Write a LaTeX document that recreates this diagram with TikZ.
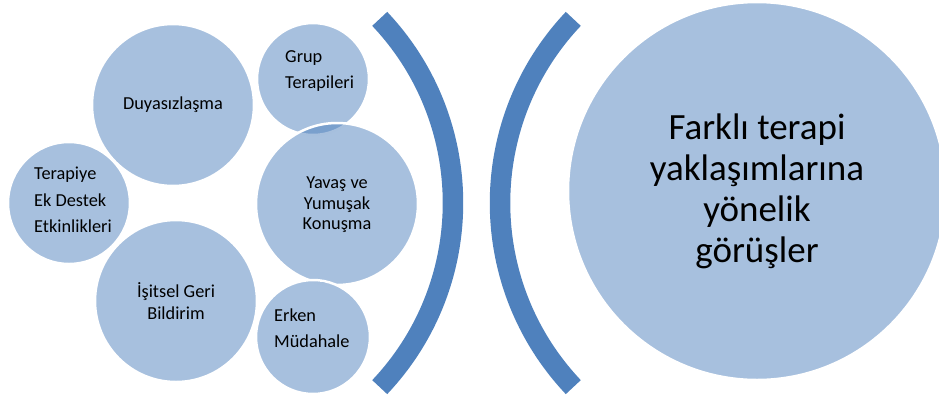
\documentclass[tikz,border=0pt]{standalone}
\usepackage{fontspec}
\setmainfont{Carlito}
\usetikzlibrary{calc}
\definecolor{accent}{HTML}{4F81BD}
\tikzset{
  bubble/.style={circle, inner sep=0pt, fill=accent, fill opacity=0.5,
    draw=white, draw opacity=1, line width=2.5pt},
  label/.style={inner sep=0pt, text opacity=1, font=\fontsize{18.3}{20.5}\selectfont},
  bracket/.style={draw=accent, line width=20.5pt, line cap=butt},
}
\begin{document}
\begin{tikzpicture}[x=1pt, y=-1pt]
\useasboundingbox (0,0) rectangle (939,405);

% small bubbles
\node[bubble, minimum size=122pt] (destek) at (69,203) {};
\node[bubble, minimum size=162pt] (duyas) at (173,105) {};
\node[bubble, minimum size=162pt] (isit) at (176,301) {};
\node[bubble, minimum size=112pt] (grup) at (313,79) {};
\node[bubble, minimum size=162pt] (yavas) at (337,204) {};
\node[bubble, minimum size=114pt] (erken) at (313,337) {};

% central bubble
\node[bubble, minimum size=378pt] (main) at (757,191) {};

% bubble texts
\node[label] (tduyas) at (duyas) {Duyasızlaşma};
\node[label, anchor=west, align=left, font=\fontsize{18.3}{26}\selectfont] (tgrup) at (285,71) {Grup\\Terapileri};
\node[label, anchor=west, align=left, font=\fontsize{18.3}{26.5}\selectfont] (tdestek) at (34,200) {Terapiye\\Ek Destek\\Etkinlikleri};
\node[label, align=center] (tyavas) at (337,205) {Yavaş ve\\Yumuşak\\Konuşma};
\node[label, align=center, font=\fontsize{18.3}{21.5}\selectfont] (tisit) at (176,301) {İşitsel Geri\\Bildirim};
\node[label, anchor=west, align=left, font=\fontsize{18.3}{26}\selectfont] (terken) at (274,328) {Erken\\Müdahale};
\node[label, align=center, font=\fontsize{37}{41}\selectfont] (tmain) at (757,191) {Farklı terapi\\yaklaşımlarına\\yönelik\\görüşler};

% brackets
\coordinate (lc) at (185,203);
\coordinate (rc) at (768,203);
\draw[bracket] ($(lc)+(-43.4:268)$) arc[start angle=-43.4, end angle=43.4, radius=268];
\draw[bracket] ($(rc)+(136.6:268)$) arc[start angle=136.6, end angle=223.4, radius=268];
\end{tikzpicture}
\end{document}
